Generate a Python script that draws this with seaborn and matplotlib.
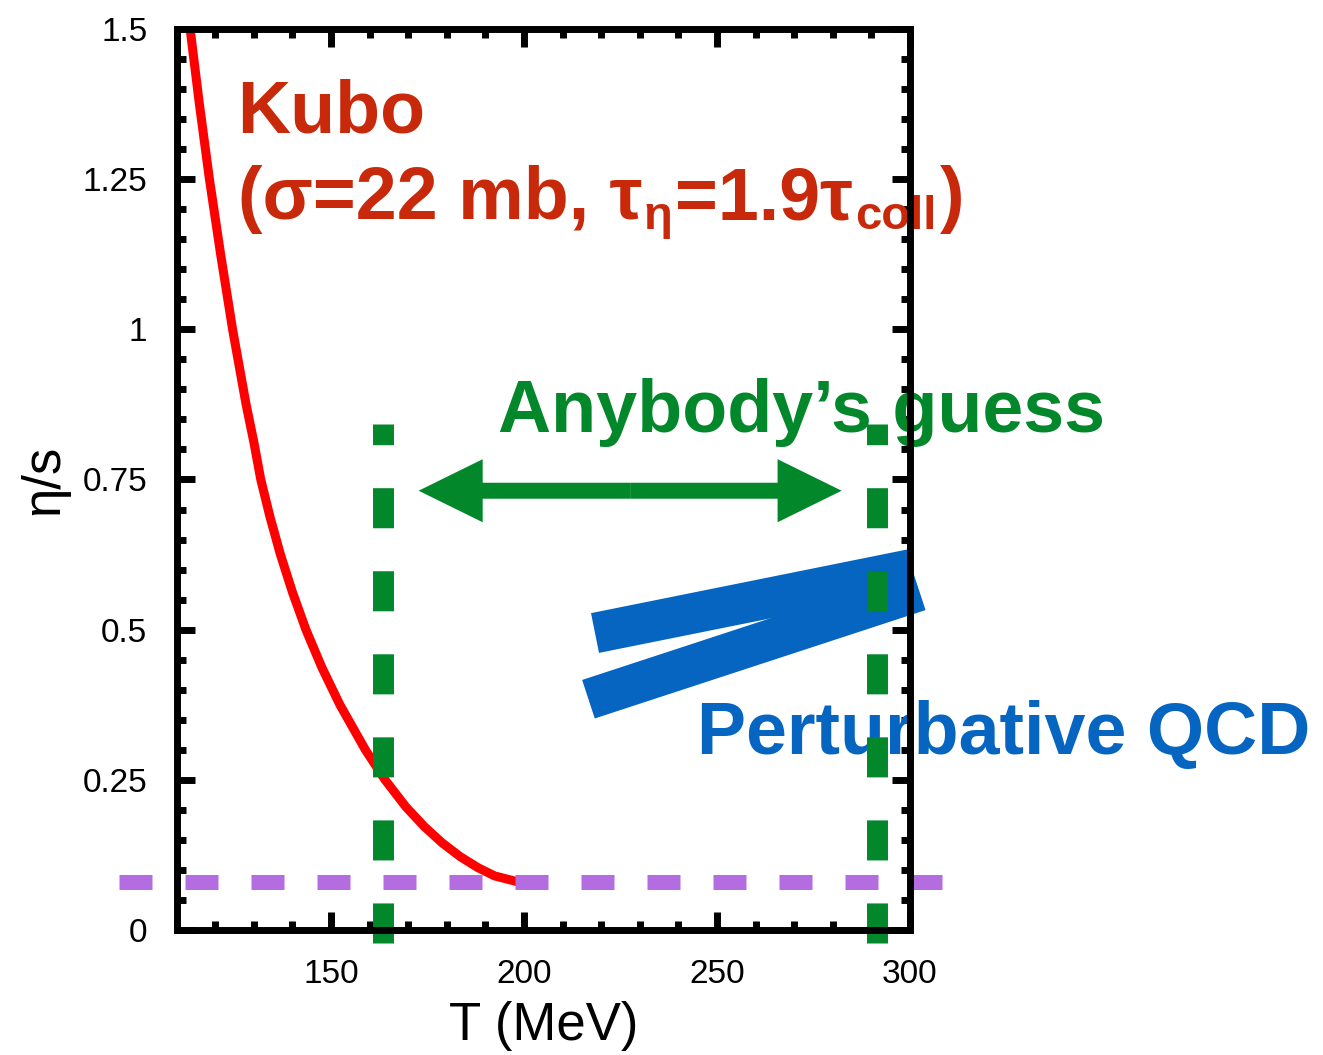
import numpy as np
import pandas as pd
import seaborn as sns
import matplotlib.pyplot as plt
from matplotlib.ticker import MultipleLocator

sns.set_style("ticks")
plt.rcParams['font.family'] = ['Liberation Sans', 'DejaVu Sans']
plt.rcParams['text.color'] = 'black'
plt.rcParams['axes.labelcolor'] = 'black'
plt.rcParams['xtick.color'] = 'black'
plt.rcParams['ytick.color'] = 'black'

# Kubo curve
kubo_T = [113.5, 115.9, 118.5, 121.4, 124.5, 128.0, 130.0, 131.8, 134.2, 136.9, 140.0,
          143.5, 147.6, 152.3, 158.9, 164.0, 169.4, 174.2, 178.8, 183.5, 188.0, 192.4, 198.5]
kubo_eta = [1.5, 1.375, 1.25, 1.125, 1.0, 0.875, 0.8125, 0.75, 0.6875, 0.625, 0.5625,
            0.5, 0.4375, 0.375, 0.30, 0.25, 0.205, 0.172, 0.145, 0.122, 0.104, 0.09, 0.08]

# KSS bound line
kss_T = [95.2, 308.3]
kss_eta = [0.0796, 0.0796]

# "anybody's guess" window
guess_T = [163.6, 291.5]
guess_eta = [-0.0216, 0.842]
arrow_T = [172.7, 282.3]
arrow_eta = 0.7313

# perturbative QCD bands
pqcd_upper_T = [218.4, 300.5]
pqcd_upper_eta = [0.4944, 0.6006]
pqcd_lower_T = [216.7, 302.4]
pqcd_lower_eta = [0.3842, 0.5647]

xticks = [150, 200, 250, 300]
yticks = [0, 0.25, 0.5, 0.75, 1, 1.25, 1.5]
ytick_labels = ["0", "0.25", "0.5", "0.75", "1", "1.25", "1.5"]

# second line of the Kubo label: (text, is_subscript, gap before in pt)
kubo_line2 = [("(\u03c3=22 mb, \u03c4", False, 0), ("\u03b7", True, 1.5),
              ("=1.9\u03c4", False, 1.5), ("coll", True, 1.5), (")", False, 3)]

red_text = "#C8290A"
green = "#02872B"
blue = "#0565C0"
purple = "#B36DE0"

fig = plt.figure(figsize=(13.23, 10.55), dpi=100)
ax = fig.add_axes([0.1335, 0.1185, 0.5543, 0.854])

kubo = pd.DataFrame({"T": kubo_T, "eta_s": kubo_eta})
sns.lineplot(data=kubo, x="T", y="eta_s", color="#FF0000", lw=6.5, ax=ax, zorder=2.1)

ax.plot(kss_T, kss_eta, color=purple, lw=10.8, dashes=(2.2, 2.2), clip_on=False, zorder=2.15)

ax.plot(pqcd_upper_T, pqcd_upper_eta, color=blue, lw=29.2, solid_capstyle='butt',
        clip_on=False, zorder=1.5)
ax.plot(pqcd_lower_T, pqcd_lower_eta, color=blue, lw=29.2, solid_capstyle='butt',
        clip_on=False, zorder=1.5)

for t in guess_T:
    ax.plot([t, t], guess_eta, color=green, lw=15.1, dashes=(1.91, 2.05),
            clip_on=False, zorder=2.3)

mid = (arrow_T[0] + arrow_T[1]) / 2
for end in arrow_T:
    ax.arrow(mid, arrow_eta, end - mid, 0, width=0.0266, head_width=0.105,
             head_length=16.6, length_includes_head=True, color=green, lw=0,
             zorder=2.2)

ax.text(125.8, 1.328, "Kubo", color=red_text, fontsize=53, fontweight='bold',
        ha='left', va='baseline', zorder=2)

# line 2 built piece by piece so the subscripts sit right
base_y = 1.1836
prev = ax.text(125.8, base_y, kubo_line2[0][0], color=red_text, fontsize=53,
               fontweight='bold', ha='left', va='baseline', zorder=2)
for s, sub, gap in kubo_line2[1:]:
    prev = ax.annotate(s, xy=(1, base_y), xycoords=(prev, 'data'),
                       xytext=(gap, -7 if sub else 0), textcoords='offset points',
                       color=red_text, fontsize=34 if sub else 53, fontweight='bold',
                       ha='left', va='baseline', zorder=2, annotation_clip=False)

ax.text(193.2, 0.829, "Anybody\u2019s guess", color=green, fontsize=53, fontweight='bold',
        ha='left', va='baseline', zorder=2, clip_on=False)
ax.text(244.7, 0.293, "Perturbative QCD", color=blue, fontsize=53, fontweight='bold',
        ha='left', va='baseline', zorder=2, clip_on=False)

ax.set_xlim(110, 300)
ax.set_ylim(0, 1.5)
ax.set_xticks(xticks)
ax.set_yticks(yticks, ytick_labels)
ax.xaxis.set_minor_locator(MultipleLocator(10))
ax.yaxis.set_minor_locator(MultipleLocator(0.05))
ax.tick_params(which='both', direction='in', top=True, right=True, width=5,
               color='black', labelcolor='black', labelsize=24, pad=21)
ax.tick_params(which='major', length=13)
ax.tick_params(which='minor', length=6.5)
for s in ax.spines.values():
    s.set_linewidth(5)
    s.set_color('black')
    s.set_zorder(2.5)

ax.set_xlabel("T (MeV)", fontsize=38, labelpad=8, color='black')
ax.set_ylabel("\u03b7/s", fontsize=38, labelpad=10, color='black')

fig.savefig("out.png", dpi=100)
